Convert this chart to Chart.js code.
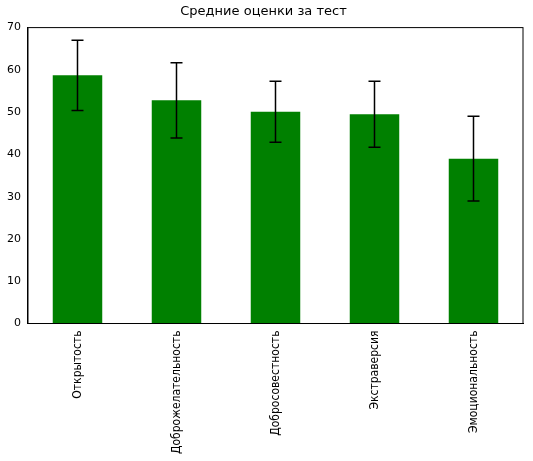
<!DOCTYPE html>
<html>
<head>
<meta charset="utf-8">
<script src="https://cdn.jsdelivr.net/npm/chart.js@4"></script>
<style>
  body { margin: 0; background: white; }
  #wrap { width: 533px; height: 461px; }
</style>
</head>
<body>
<div id="wrap"><canvas id="chart"></canvas></div>
<script>
// data
const categories = ["Открытость", "Доброжелательность", "Добросовестность", "Экстраверсия", "Эмоциональность"];
const means = [58.7, 52.8, 50.1, 49.5, 39.0];
const errors = [8.3, 8.9, 7.2, 7.8, 10.0];
const yTicks = [0, 10, 20, 30, 40, 50, 60, 70];

// рисуем усы погрешностей
const errorBars = {
  id: "errorBars",
  afterDatasetsDraw(chart) {
    const ctx = chart.ctx;
    const meta = chart.getDatasetMeta(0);
    const y = chart.scales.y;
    ctx.save();
    ctx.strokeStyle = "black";
    ctx.lineWidth = 1.5;
    meta.data.forEach((bar, i) => {
      const top = y.getPixelForValue(means[i] + errors[i]);
      const bot = y.getPixelForValue(means[i] - errors[i]);
      ctx.beginPath();
      ctx.moveTo(bar.x, top); ctx.lineTo(bar.x, bot);
      ctx.moveTo(bar.x - 6, top); ctx.lineTo(bar.x + 6, top);
      ctx.moveTo(bar.x - 6, bot); ctx.lineTo(bar.x + 6, bot);
      ctx.stroke();
    });
    ctx.restore();
  }
};

// рамка вокруг области графика
const frame = {
  id: "frame",
  afterDraw(chart) {
    const a = chart.chartArea;
    const ctx = chart.ctx;
    ctx.save();
    ctx.strokeStyle = "black";
    ctx.lineWidth = 1;
    ctx.strokeRect(a.left, a.top, a.right - a.left, a.bottom - a.top);
    ctx.restore();
  }
};

new Chart(document.getElementById("chart"), {
  type: "bar",
  data: {
    labels: categories,
    datasets: [{
      data: means,
      backgroundColor: "#008000",
      categoryPercentage: 1.0,
      barPercentage: 0.5
    }]
  },
  options: {
    responsive: true,
    maintainAspectRatio: false,
    animation: false,
    layout: { padding: { top: 0, right: 10, left: 4, bottom: 4 } },
    scales: {
      x: {
        grid: { display: false, drawTicks: true, tickLength: 4, tickColor: "black" },
        border: { color: "black" },
        ticks: {
          color: "black",
          maxRotation: 90, minRotation: 90,
          font: { family: "'Liberation Sans Narrow', 'DejaVu Sans Condensed', 'DejaVu Sans'", size: 12 }
        }
      },
      y: {
        min: 0, max: 70,
        afterBuildTicks: (axis) => { axis.ticks = yTicks.map(v => ({ value: v })); },
        grid: { display: false, drawTicks: true, tickLength: 4, tickColor: "black" },
        border: { color: "black" },
        ticks: { color: "black", font: { family: "'DejaVu Sans'", size: 11 } }
      }
    },
    plugins: {
      legend: { display: false },
      tooltip: { enabled: false },
      title: {
        display: true,
        text: "Средние оценки за тест",
        color: "black",
        font: { family: "'DejaVu Sans'", size: 13, weight: "normal" },
        padding: { top: 4, bottom: 8 }
      }
    }
  },
  plugins: [errorBars, frame]
});
</script>
</body>
</html>
